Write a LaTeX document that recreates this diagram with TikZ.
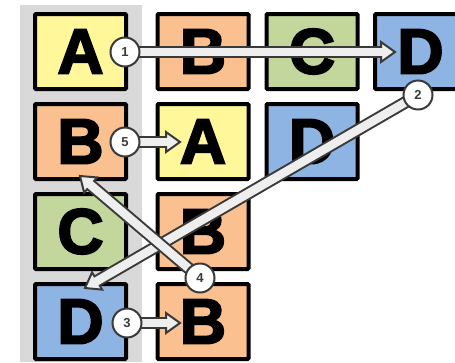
\documentclass[tikz,border=0pt]{standalone}
\usepackage{fontspec}
\usetikzlibrary{calc}
\newfontfamily\letterfont{Liberation Sans}[BoldFeatures={FakeBold=3}]
\newfontfamily\numfont{Liberation Sans}
\definecolor{cy}{HTML}{FFF799}
\definecolor{co}{HTML}{FAC08F}
\definecolor{cg}{HTML}{C3D69B}
\definecolor{cb}{HTML}{8EB4E3}
\definecolor{graycol}{HTML}{D9D9D9}
\definecolor{arrowfill}{HTML}{EEEEEE}
\definecolor{arrowline}{HTML}{3A3A3A}
\newcommand\fatarrow[2]{%
  \coordinate (hb) at ($(#2)!14pt!(#1)$);
  \coordinate (hl) at ($(hb)!10pt!90:(#2)$);
  \coordinate (hr) at ($(hb)!10pt!-90:(#2)$);
  \coordinate (hi) at ($(hb)!4pt!(#2)$);
  \draw[arrowline, line width=12.5pt] (#1) -- (hb);
  \filldraw[fill=arrowfill, draw=arrowline, line width=2pt, line join=miter] (#2) -- (hl) -- (hr) -- cycle;
  \draw[arrowfill, line width=8.5pt] (#1) -- (hi);
}
\begin{document}
\begin{tikzpicture}[x=1pt,y=-1pt,
  tile/.style={draw=black, line width=4pt, minimum width=91pt, minimum height=75pt,
    inner sep=0pt, rounded corners=1pt, font=\letterfont\bfseries\fontsize{64pt}{64pt}\selectfont},
  num/.style={circle, draw=arrowline, line width=2pt, fill=white, minimum size=29pt,
    inner sep=0pt, text=arrowline, font=\numfont\bfseries\fontsize{13pt}{13pt}\selectfont}]
\useasboundingbox (0,0) rectangle (455,362);
\clip (0,0) rectangle (455,362);
\fill[graycol] (20,5) rectangle (142,362);
% column 0
\node[tile, fill=cy] (a0) at (80.5,51.5) {A};
\node[tile, fill=co] (b0) at (80.5,141.5) {B};
\node[tile, fill=cg] (c0) at (80.5,231.5) {C};
\node[tile, fill=cb] (d0) at (80.5,321.5) {D};
% row 0
\node[tile, fill=co] (b1) at (203,51.5) {B};
\node[tile, fill=cg] (c1) at (312,51.5) {C};
\node[tile, fill=cb] (d1) at (420.5,51.5) {D};
% row 1
\node[tile, fill=cy] (a2) at (203,141.5) {A};
\node[tile, fill=cb] (d2) at (312,141.5) {D};
% rows 2,3
\node[tile, fill=co] (b3) at (203,231.5) {B};
\node[tile, fill=co] (b4) at (203,321.5) {B};
% arrows
\coordinate (p1) at (125,52);
\coordinate (t1) at (395,52);
\coordinate (p5) at (125,142);
\coordinate (t5) at (180,142);
\coordinate (p3) at (127,323);
\coordinate (t3) at (180,323);
\coordinate (p2) at (418,95);
\coordinate (t2) at (85,288);
\coordinate (p4) at (200,278);
\coordinate (t4) at (80,176);
\fatarrow{p1}{t1}
\fatarrow{p5}{t5}
\fatarrow{p3}{t3}
\fatarrow{p2}{t2}
\fatarrow{p4}{t4}
\node[num] (n1) at (p1) {1};
\node[num] (n5) at (p5) {5};
\node[num] (n3) at (p3) {3};
\node[num] (n2) at (p2) {2};
\node[num] (n4) at (p4) {4};
\end{tikzpicture}
\end{document}
